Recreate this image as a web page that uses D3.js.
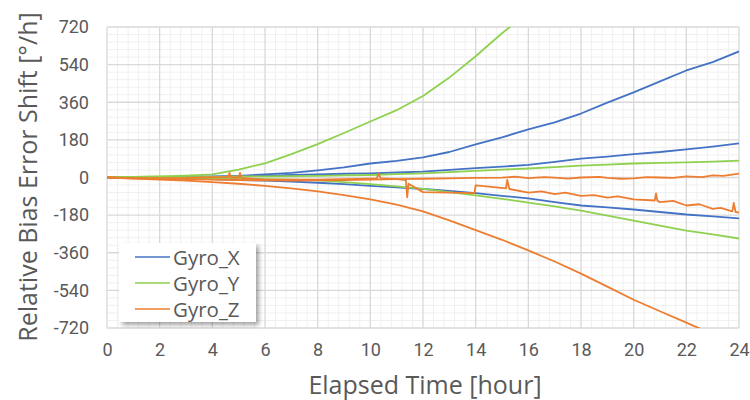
<!DOCTYPE html>
<html>
<head>
<meta charset="utf-8">
<script src="https://cdn.jsdelivr.net/npm/d3@7/dist/d3.min.js"></script>
<style>
  html, body { margin: 0; padding: 0; background: #fff; }
  svg { display: block; }
</style>
</head>
<body>
<svg id="chart" width="750" height="400"></svg>
<script>
// ---- data ----
const xTicks = [0, 2, 4, 6, 8, 10, 12, 14, 16, 18, 20, 22, 24];
const yTicks = [-720, -540, -360, -180, 0, 180, 360, 540, 720];
const legendLabels = ["Gyro_X", "Gyro_Y", "Gyro_Z"];

const gyroX1 = [[0,0],[1,2],[2,-1],[3,3],[4,5],[5,8],[6,15],[7,22],[8,34],[9,48],[10,67],[11,80],[12,96],[13,122],[14,158],[15,192],[16,230],[17,264],[18,306],[19,358],[20,407],[21,460],[22,512],[23,552],[24,603]];
const gyroX2 = [[0,0],[1,2],[2,0],[3,4],[4,3],[5,6],[6,8],[7,12],[8,15],[9,18],[10,20],[11,24],[12,28],[13,36],[14,45],[15,52],[16,60],[17,75],[18,90],[19,100],[20,112],[21,122],[22,135],[23,148],[24,163]];
const gyroX3 = [[0,0],[1,-2],[2,-4],[3,-5],[4,-8],[5,-12],[6,-15],[7,-20],[8,-25],[9,-32],[10,-40],[11,-47],[12,-55],[13,-64],[14,-75],[15,-88],[16,-100],[17,-118],[18,-134],[19,-143],[20,-153],[21,-165],[22,-177],[23,-186],[24,-196]];

const gyroY1 = [[0,0],[1,3],[2,5],[3,9],[4,15],[5,38],[6,68],[7,112],[8,160],[9,213],[10,268],[11,322],[12,390],[13,478],[14,580],[15,690],[15.3,720],[15.6,752]];
const gyroY2 = [[0,0],[1,3],[2,4],[3,2],[4,3],[5,5],[6,5],[7,7],[8,8],[9,10],[10,12],[11,16],[12,20],[13,26],[14,32],[15,38],[16,43],[17,50],[18,57],[19,62],[20,67],[21,70],[22,72],[23,76],[24,81]];
const gyroY3 = [[0,0],[1,-1],[2,-2],[3,-3],[4,-5],[5,-6],[6,-8],[7,-10],[8,-14],[9,-22],[10,-32],[11,-42],[12,-54],[13,-70],[14,-86],[15,-102],[16,-120],[17,-138],[18,-158],[19,-182],[20,-206],[21,-230],[22,-254],[23,-272],[24,-292]];

const gyroZ1 = [[0,0],[1,-5],[2,-10],[3,-15],[4,-22],[5,-30],[6,-40],[7,-52],[8,-66],[9,-84],[10,-105],[11,-130],[12,-162],[13,-205],[14,-252],[15,-298],[16,-349],[17,-402],[18,-460],[19,-522],[20,-585],[21,-640],[22,-694],[22.5,-722],[23,-750]];
const gyroZ2 = [[0,0],[1,-3],[2,-6],[3,-8],[4,-10],[5,-12],[6,-14],[7,-15],[8,-14],[9,-12],[10,-10],[11,-8],[12,-6],[13,-4],[14,-2],[15,-1],[15.5,4],[16,-3],[16.6,2],[17,-1],[17.5,-5],[18,0],[18.7,3],[19,-2],[19.5,-6],[20,-4],[20.5,2],[21,0],[21.5,-2],[22,5],[22.6,2],[23,10],[23.4,8],[24,19]];
const gyroZ3 = [[0,0],[1,-4],[2,-3],[3,-2],[4,2],[4.6,2],[4.65,22],[4.7,0],[5.0,0],[5.05,22],[5.1,-2],[6,-10],[7,-10],[8,-10],[9,-8],[10,-5],[10.25,-4],[10.3,18],[10.4,-4],[11,-8],[11.35,-12],[11.4,-95],[11.45,-30],[12,-70],[13,-72],[13.95,-75],[14.0,-38],[14.6,-45],[15.15,-52],[15.2,-12],[15.28,-55],[16,-72],[16.5,-66],[17,-80],[17.4,-72],[18,-88],[18.5,-84],[19,-96],[19.4,-90],[20,-105],[20.8,-110],[20.85,-76],[20.9,-112],[21,-118],[21.5,-112],[22,-134],[22.5,-128],[23,-150],[23.3,-145],[23.75,-162],[23.8,-122],[23.87,-165],[24,-168]];

const seriesX = [gyroX1, gyroX2, gyroX3];
const seriesY = [gyroY1, gyroY2, gyroY3];
const seriesZ = [gyroZ1, gyroZ2, gyroZ3];

// ---- layout ----
const colors = { X: "#4472C4", Y: "#8FD14F", Z: "#ED7D31" };
const svg = d3.select("#chart");
const m = { left: 107, top: 27, right: 739, bottom: 328 };
const W = m.right - m.left, H = m.bottom - m.top;
const FONT = "Roboto, 'Noto Sans', sans-serif";
const TFONT = "'Open Sans', 'Noto Sans', sans-serif";
const TXT = "#595959";

const x = d3.scaleLinear().domain([0, 24]).range([m.left, m.right]);
const y = d3.scaleLinear().domain([-720, 720]).range([m.bottom, m.top]);

// minor grid
const minorX = d3.range(0, 24.001, 0.4).filter(v => Math.abs(v / 2 - Math.round(v / 2)) > 1e-6);
const minorY = d3.range(-720, 720.001, 36).filter(v => v % 180 !== 0);
const grid = svg.append("g");
grid.selectAll(".mx").data(minorX).join("line")
  .attr("x1", d => x(d)).attr("x2", d => x(d)).attr("y1", m.top).attr("y2", m.bottom)
  .attr("stroke", "#f0f0f0").attr("stroke-width", 1);
grid.selectAll(".my").data(minorY).join("line")
  .attr("x1", m.left).attr("x2", m.right).attr("y1", d => y(d)).attr("y2", d => y(d))
  .attr("stroke", "#f0f0f0").attr("stroke-width", 1);
// major grid
grid.selectAll(".Mx").data(xTicks).join("line")
  .attr("x1", d => x(d)).attr("x2", d => x(d)).attr("y1", m.top).attr("y2", m.bottom)
  .attr("stroke", "#d9d9d9").attr("stroke-width", 1.3);
grid.selectAll(".My").data(yTicks).join("line")
  .attr("x1", m.left).attr("x2", m.right).attr("y1", d => y(d)).attr("y2", d => y(d))
  .attr("stroke", "#d9d9d9").attr("stroke-width", 1.3);

// clip
svg.append("clipPath").attr("id", "clip").append("rect")
  .attr("x", m.left).attr("y", m.top).attr("width", W).attr("height", H);

const line = d3.line().x(d => x(d[0])).y(d => y(d[1]));
const plot = svg.append("g").attr("clip-path", "url(#clip)");
[[seriesX, colors.X], [seriesY, colors.Y], [seriesZ, colors.Z]].forEach(([arr, c]) => {
  arr.forEach(s => {
    plot.append("path").datum(s).attr("d", line)
      .attr("fill", "none").attr("stroke", c).attr("stroke-width", 1.8)
      .attr("stroke-linejoin", "round");
  });
});

// axes
const xAxis = svg.append("g").attr("transform", `translate(0,${m.bottom})`)
  .call(d3.axisBottom(x).tickValues(xTicks).tickSize(0).tickPadding(15).tickFormat(d => String(d)));
const yAxis = svg.append("g").attr("transform", `translate(${m.left},0)`)
  .call(d3.axisLeft(y).tickValues(yTicks).tickSize(0).tickPadding(18).tickFormat(d => String(d)));
[xAxis, yAxis].forEach(a => {
  a.select(".domain").remove();
  a.selectAll("text").attr("font-family", FONT).attr("font-size", 18).attr("fill", TXT);
});

// titles
svg.append("text").attr("x", 425).attr("y", 394).attr("text-anchor", "middle")
  .attr("font-family", TFONT).attr("font-size", 25).attr("fill", TXT)
  .text("Elapsed Time [hour]");
svg.append("text").attr("transform", "translate(37,177) rotate(-90)").attr("text-anchor", "middle")
  .attr("font-family", TFONT).attr("font-size", 25).attr("fill", TXT)
  .text("Relative Bias Error Shift [°/h]");

// legend
const defs = svg.append("defs");
const f = defs.append("filter").attr("id", "shadow").attr("x", "-10%").attr("y", "-10%").attr("width", "130%").attr("height", "130%");
f.append("feDropShadow").attr("dx", 3).attr("dy", 3).attr("stdDeviation", 2).attr("flood-color", "#000").attr("flood-opacity", 0.35);
const lg = svg.append("g");
lg.append("rect").attr("x", 119).attr("y", 243).attr("width", 137).attr("height", 79)
  .attr("fill", "#fff").attr("filter", "url(#shadow)");
[colors.X, colors.Y, colors.Z].forEach((c, i) => {
  const cy = 257 + i * 26;
  lg.append("line").attr("x1", 135).attr("x2", 170).attr("y1", cy).attr("y2", cy)
    .attr("stroke", c).attr("stroke-width", 1.6);
  lg.append("text").attr("x", 173).attr("y", cy + 7.5)
    .attr("font-family", TFONT).attr("font-size", 20.5).attr("fill", TXT)
    .text(legendLabels[i]);
});
</script>
</body>
</html>
